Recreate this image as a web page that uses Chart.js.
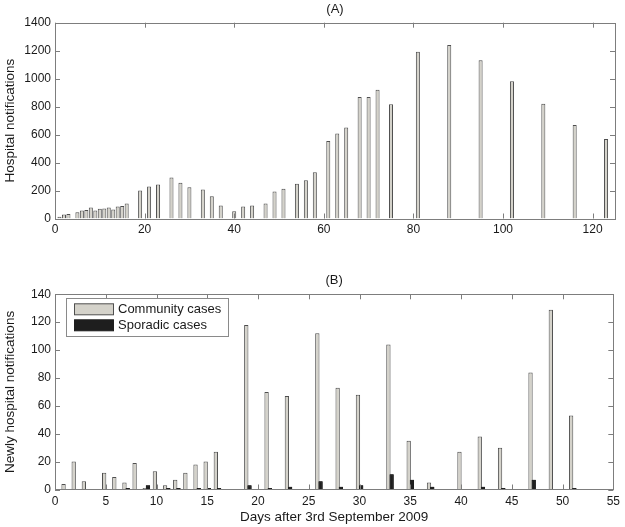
<!DOCTYPE html>
<html>
<head>
<meta charset="utf-8">
<script src="https://cdn.jsdelivr.net/npm/chart.js@4.4.0/dist/chart.umd.min.js"></script>
<style>
  body { margin: 0; background: #fff; }
  #wrap { position: relative; width: 625px; height: 527px; }
  .panel { position: absolute; left: 0; width: 625px; }
</style>
</head>
<body>
<div id="wrap">
  <div class="panel" style="top:0;height:263px"><canvas id="chartA"></canvas></div>
  <div class="panel" style="top:263px;height:264px"><canvas id="chartB"></canvas></div>
</div>
<script>
// (A) hospital notifications
var daysA = [1,2,3,5,6,7,8,9,10,11,12,13,14,15,16,19,21,23,26,28,30,33,35,37,40,42,44,47,49,51,54,56,58,61,63,65,68,70,72,75,81,88,95,102,109,116,123];
var notifA = [12,28,32,45,57,60,78,57,69,71,78,64,86,90,107,200,229,243,293,255,224,207,159,93,52,86,93,107,193,212,248,274,331,555,607,650,869,869,921,817,1193,1240,1131,981,821,669,569];
var xTicksA = [0,20,40,60,80,100,120];
var yTicksA = [0,200,400,600,800,1000,1200,1400];

// (B) newly hospital notifications
var daysB = [1,2,3,5,6,7,8,9,10,11,12,13,14,15,16,19,21,23,26,28,30,33,35,37,40,42,44,47,49,51];
var community = [4,20,6,12,9,5,19,1,13,3,7,12,18,20,27,118,70,67,112,73,68,104,35,5,27,38,30,84,129,53];
var daysSporadic = [7,9,11,12,14,15,16,19,21,23,26,28,30,33,35,37,42,44,47,51];
var sporadic = [1,3,1,1,1,1,1,3,1,2,6,2,3,11,7,2,2,1,7,1];
var xTicksB = [0,5,10,15,20,25,30,35,40,45,50,55];
var yTicksB = [0,20,40,60,80,100,120,140];

var FONT = '"Liberation Sans", Arial, Helvetica, sans-serif';
Chart.defaults.font.family = FONT;
Chart.defaults.color = '#1a1a1a';

function pts(xs, ys) {
  return xs.map(function(x, i) { return {x: x, y: ys[i]}; });
}
function fixTicks(list) {
  return function(s) { s.ticks = list.map(function(v) { return {value: v}; }); };
}
function plain(v) { return String(v); }

// box round the plot and inward ticks on all four sides
var boxTicks = {
  id: 'boxTicks',
  afterDraw: function(chart) {
    var ctx = chart.ctx, a = chart.chartArea, sx = chart.scales.x, sy = chart.scales.y;
    ctx.save();
    ctx.strokeStyle = '#7d7d7d';
    ctx.lineWidth = 1;
    ctx.beginPath();
    sx.ticks.forEach(function(t) {
      var px = Math.round(sx.getPixelForValue(t.value)) + 0.5;
      ctx.moveTo(px, a.bottom); ctx.lineTo(px, a.bottom - 5);
      ctx.moveTo(px, a.top); ctx.lineTo(px, a.top + 5);
    });
    sy.ticks.forEach(function(t) {
      var py = Math.round(sy.getPixelForValue(t.value)) + 0.5;
      ctx.moveTo(a.left, py); ctx.lineTo(a.left + 5, py);
      ctx.moveTo(a.right, py); ctx.lineTo(a.right - 5, py);
    });
    ctx.stroke();
    ctx.strokeRect(Math.round(a.left) + 0.5, Math.round(a.top) + 0.5,
                   Math.round(a.right - a.left), Math.round(a.bottom - a.top));
    ctx.restore();
  }
};

// sporadic bars sit over the community bars
var blackOnTop = {
  id: 'blackOnTop',
  afterDatasetsDraw: function(chart) {
    chart.getDatasetMeta(1).controller.draw();
  }
};

var boxLegend = {
  id: 'boxLegend',
  afterDraw: function(chart) {
    var ctx = chart.ctx, a = chart.chartArea;
    var x0 = a.left + 11, y0 = a.top + 4;
    ctx.save();
    ctx.fillStyle = '#fff';
    ctx.fillRect(x0, y0, 162, 38);
    ctx.strokeStyle = '#8a8a8a';
    ctx.lineWidth = 1;
    ctx.strokeRect(Math.round(x0) + 0.5, Math.round(y0) + 0.5, 162, 38);
    ctx.font = '13px ' + FONT;
    ctx.textBaseline = 'middle';
    chart.data.datasets.forEach(function(ds, i) {
      var sy = y0 + 5 + i * 16;
      ctx.fillStyle = ds.backgroundColor;
      ctx.fillRect(x0 + 8.5, sy + 0.5, 39, 11);
      ctx.strokeStyle = ds.borderColor;
      ctx.strokeRect(x0 + 8.5, sy + 0.5, 39, 11);
      ctx.fillStyle = '#1a1a1a';
      ctx.fillText(ds.label, x0 + 52, sy + 6.5);
    });
    ctx.restore();
  }
};

new Chart(document.getElementById('chartA'), {
  type: 'bar',
  data: {
    datasets: [{
      label: 'Hospital notifications',
      data: pts(daysA, notifA),
      backgroundColor: 'rgb(212,210,202)',
      borderColor: '#4f4f4f',
      borderWidth: 1,
      categoryPercentage: 0.9,
      barPercentage: 1
    }]
  },
  options: {
    responsive: true,
    maintainAspectRatio: false,
    animation: false,
    layout: { padding: { left: 0, right: 10, top: 0, bottom: 0 } },
    plugins: {
      legend: { display: false },
      tooltip: { enabled: false },
      title: {
        display: true, text: '(A)', fullSize: false,
        font: { size: 13, weight: 'normal' },
        padding: { top: 1.2, bottom: 5.9 }
      }
    },
    scales: {
      x: {
        type: 'linear', min: 0, max: 125, offset: false,
        afterBuildTicks: fixTicks(xTicksA),
        afterFit: function(s) { s.height = 44.5; },
        grid: { display: false, drawTicks: false },
        border: { display: false },
        ticks: { padding: 4, font: { size: 12 }, maxRotation: 0, callback: plain }
      },
      y: {
        min: 0, max: 1400,
        afterBuildTicks: fixTicks(yTicksA),
        afterFit: function(s) { s.width = 55; },
        grid: { display: false, drawTicks: false },
        border: { display: false },
        ticks: { padding: 4, font: { size: 12 }, callback: plain },
        title: { display: true, text: 'Hospital notifications', font: { size: 13.5 }, padding: 2 }
      }
    }
  },
  plugins: [boxTicks]
});

new Chart(document.getElementById('chartB'), {
  type: 'bar',
  data: {
    datasets: [{
      label: 'Community cases',
      data: pts(daysB, community),
      backgroundColor: 'rgb(212,210,202)',
      borderColor: '#4f4f4f',
      borderWidth: 1,
      categoryPercentage: 0.63,
      barPercentage: 1.35
    }, {
      label: 'Sporadic cases',
      data: pts(daysSporadic, sporadic),
      backgroundColor: '#1e1e1e',
      borderColor: '#1e1e1e',
      borderWidth: 1,
      categoryPercentage: 0.63,
      barPercentage: 1.35
    }]
  },
  options: {
    responsive: true,
    maintainAspectRatio: false,
    animation: false,
    layout: { padding: { left: 0, right: 10, top: 0, bottom: 0 } },
    plugins: {
      legend: { display: false },
      tooltip: { enabled: false },
      title: {
        display: true, text: '(B)', fullSize: false,
        font: { size: 13, weight: 'normal' },
        padding: { top: 9.2, bottom: 6.5 }
      }
    },
    scales: {
      x: {
        type: 'linear', min: 0, max: 55, offset: false,
        afterBuildTicks: fixTicks(xTicksB),
        afterFit: function(s) { s.height = 37.5; },
        grid: { display: false, drawTicks: false },
        border: { display: false },
        ticks: { padding: 5, font: { size: 12 }, maxRotation: 0, callback: plain },
        title: { display: true, text: 'Days after 3rd September 2009', font: { size: 13.5 }, padding: 2 }
      },
      y: {
        min: 0, max: 140,
        afterBuildTicks: fixTicks(yTicksB),
        afterFit: function(s) { s.width = 55; },
        grid: { display: false, drawTicks: false },
        border: { display: false },
        ticks: { padding: 4, font: { size: 12 }, callback: plain },
        title: { display: true, text: 'Newly hospital notifications', font: { size: 13.5 }, padding: 2 }
      }
    }
  },
  plugins: [blackOnTop, boxTicks, boxLegend]
});
</script>
</body>
</html>
